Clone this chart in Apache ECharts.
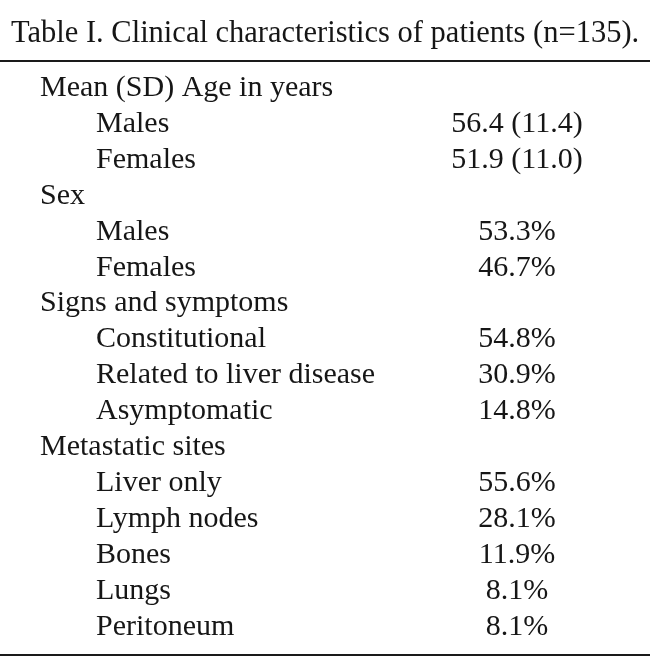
<!DOCTYPE html>
<html>
<head>
<meta charset="utf-8">
<style>html,body{margin:0;padding:0;background:#fff;}#c{width:650px;height:659px;}</style>
<script src="https://cdn.jsdelivr.net/npm/echarts@6/dist/echarts.min.js"></script>
</head>
<body>
<div id="c"></div>
<script>
var titleText = 'Table I. Clinical characteristics of patients (n=135).';
var rowLabels = ['Mean (SD) Age in years','Males','Females','Sex','Males','Females','Signs and symptoms','Constitutional','Related to liver disease','Asymptomatic','Metastatic sites','Liver only','Lymph nodes','Bones','Lungs','Peritoneum'];
var rowValues = ['','56.4 (11.4)','51.9 (11.0)','','53.3%','46.7%','','54.8%','30.9%','14.8%','','55.6%','28.1%','11.9%','8.1%','8.1%'];
var rowLevels = [0,1,1,0,1,1,0,1,1,1,0,1,1,1,1,1];

var FONT = '"Liberation Serif","Times New Roman",serif';
var FS = 30;
var INK = '#161616';
var chart = echarts.init(document.getElementById('c'), null, {renderer:'canvas'});
var ruleAxis = function(pos){ return {type:'value', gridIndex:0, position:pos, min:0, max:1,
  axisLine:{show:true, onZero:false, lineStyle:{color:'#1a1a1a', width:2}}, axisTick:{show:false}, axisLabel:{show:false}, splitLine:{show:false}}; };
chart.setOption({
  backgroundColor:'#ffffff',
  animation:false,
  title:{text:titleText, left:6, top:13, textStyle:{fontFamily:FONT, fontSize:30.5, fontWeight:'normal', color:INK}},
  grid:[{left:0, right:0, top:61, bottom:4},{left:40, right:133, top:70, bottom:14}],
  xAxis:[ruleAxis('top'), ruleAxis('bottom'),
    {type:'value', gridIndex:1, min:0, max:1, show:false}],
  yAxis:[{type:'value', gridIndex:0, show:false},
    {type:'category', gridIndex:1, inverse:true, data:rowLabels, show:false}],
  series:[
    {type:'scatter', xAxisIndex:2, yAxisIndex:1, symbolSize:0, silent:true, itemStyle:{opacity:1},
      data: rowLabels.map(function(t,i){ return {value:[0,i], label:{offset:[rowLevels[i]?56:0,0]}}; }),
      label:{show:true, position:'inside', align:'left', verticalAlign:'middle', fontFamily:FONT, fontSize:FS, color:INK,
        formatter:function(p){ return rowLabels[p.dataIndex]; }}},
    {type:'scatter', xAxisIndex:2, yAxisIndex:1, symbolSize:0, silent:true, itemStyle:{opacity:1},
      data: rowValues.map(function(t,i){ return [1,i]; }),
      label:{show:true, position:'inside', align:'center', verticalAlign:'middle', fontFamily:FONT, fontSize:FS, color:INK,
        formatter:function(p){ return rowValues[p.dataIndex]; }}}
  ]
});
</script>
</body>
</html>
